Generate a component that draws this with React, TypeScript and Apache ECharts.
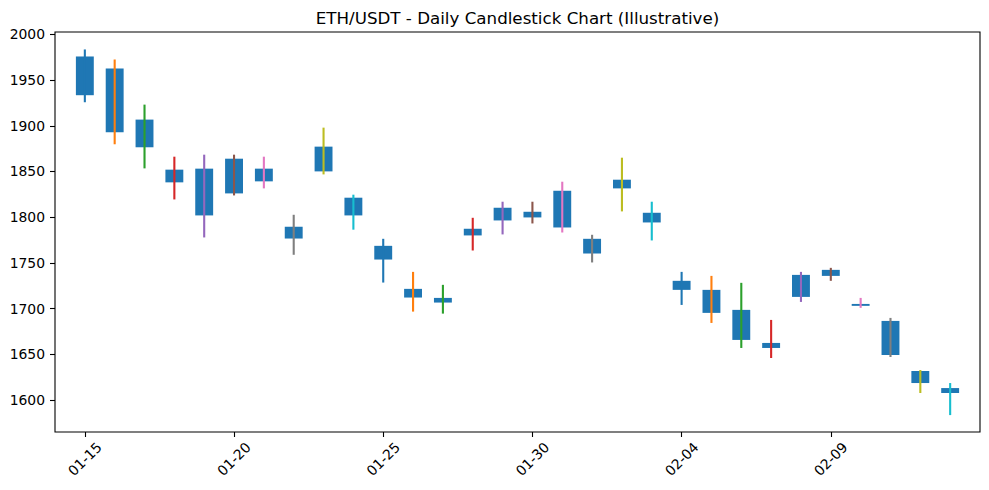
import React, { useEffect, useRef } from "react";
import * as echarts from "echarts";

const dates = [
  "01-15", "01-16", "01-17", "01-18", "01-19", "01-20", "01-21", "01-22", "01-23", "01-24",
  "01-25", "01-26", "01-27", "01-28", "01-29", "01-30", "01-31", "02-01", "02-02", "02-03",
  "02-04", "02-05", "02-06", "02-07", "02-08", "02-09", "02-10", "02-11", "02-12", "02-13",
];
const tickLabels = ["01-15", "01-20", "01-25", "01-30", "02-04", "02-09"];
const yTicks = [1600, 1650, 1700, 1750, 1800, 1850, 1900, 1950, 2000];

const open = [
  1975.9, 1962.7, 1906.8, 1852.0, 1853.1, 1864.0, 1853.1, 1789.5, 1877.2, 1821.3,
  1768.6, 1721.5, 1711.6, 1787.3, 1810.3, 1805.9, 1828.9, 1776.3, 1841.0, 1804.8,
  1730.3, 1720.4, 1698.5, 1662.3, 1736.8, 1742.3, 1705.0, 1686.4, 1631.6, 1612.9,
];
const close = [
  1933.5, 1892.9, 1876.5, 1838.1, 1801.9, 1826.0, 1839.2, 1776.6, 1850.1, 1801.9,
  1753.6, 1712.0, 1706.5, 1780.0, 1796.4, 1799.7, 1788.7, 1760.2, 1831.5, 1794.2,
  1720.4, 1695.2, 1665.6, 1656.8, 1712.7, 1735.7, 1702.9, 1649.1, 1618.4, 1607.5,
];
const high = [
  1983.6, 1972.6, 1923.2, 1866.2, 1868.4, 1868.4, 1866.2, 1802.6, 1898.0, 1824.6,
  1776.3, 1740.1, 1725.9, 1799.3, 1816.9, 1816.9, 1838.8, 1780.7, 1865.1, 1816.9,
  1740.1, 1735.7, 1728.1, 1687.5, 1740.1, 1744.5, 1711.6, 1689.7, 1632.7, 1618.4,
];
const low = [
  1925.8, 1879.8, 1853.4, 1819.4, 1777.8, 1823.8, 1831.5, 1758.8, 1846.8, 1786.3,
  1728.4, 1696.6, 1694.4, 1763.5, 1781.1, 1793.1, 1783.2, 1750.4, 1806.3, 1774.5,
  1703.9, 1684.2, 1656.8, 1645.8, 1707.2, 1730.3, 1700.7, 1646.9, 1607.5, 1583.3,
];

const wickColors = [
  "#1f77b4", "#ff7f0e", "#2ca02c", "#d62728", "#9467bd",
  "#8c564b", "#e377c2", "#7f7f7f", "#bcbd22", "#17becf",
];
const bodyColor = "#1f77b4";
const FONT = "DejaVu Sans";

export default function App() {
  const ref = useRef<HTMLDivElement>(null);
  useEffect(() => {
    if (!ref.current) return;
    const chart = echarts.init(ref.current, null, { renderer: "svg" });
    // axis categories: one padding day on each side (xlim = [-1, 30] days)
    const axisCats = ["", ...dates, " "];
    const data = dates.map((_, i) => [i + 1, open[i], close[i], low[i], high[i]]);
    chart.setOption({
      animation: false,
      backgroundColor: "#ffffff",
      graphic: [
        {
          type: "text",
          x: 517.5,
          y: 18,
          style: {
            text: "ETH/USDT - Daily Candlestick Chart (Illustrative)",
            fontFamily: FONT,
            fontSize: 16.7,
            fill: "#000",
            textAlign: "center",
            textVerticalAlign: "middle",
          },
        },
      ],
      grid: {
        left: 55,
        right: 9,
        top: 32,
        bottom: 58,
        show: true,
        borderColor: "#000",
        borderWidth: 1.1,
        backgroundColor: "transparent",
      },
      xAxis: {
        type: "category",
        data: axisCats,
        boundaryGap: false,
        axisLine: { show: false },
        axisTick: {
          show: true,
          length: 5,
          lineStyle: { color: "#000", width: 1.1 },
          interval: (_i: number, v: string) => tickLabels.includes(v),
        },
        axisLabel: {
          interval: (_i: number, v: string) => tickLabels.includes(v),
          rotate: 45,
          align: "center",
          verticalAlign: "middle",
          margin: 27,
          fontFamily: FONT,
          fontSize: 13.9,
          color: "#000",
        },
        splitLine: { show: false },
      },
      yAxis: {
        type: "value",
        min: 1564.8,
        max: 2002.7,
        axisLine: { show: false },
        axisTick: {
          show: true,
          length: 5,
          lineStyle: { color: "#000", width: 1.1 },
          customValues: yTicks,
        },
        axisLabel: {
          customValues: yTicks,
          formatter: (v: number) => String(v),
          margin: 10,
          fontFamily: FONT,
          fontSize: 13.9,
          color: "#000",
        },
        splitLine: { show: false },
      },
      series: [
        {
          type: "custom",
          data,
          encode: { x: 0, y: [1, 2, 3, 4] },
          renderItem: (params: any, api: any) => {
            const idx = api.value(0);
            const o = api.value(1);
            const c = api.value(2);
            const lo = api.value(3);
            const hi = api.value(4);
            const pTop = api.coord([idx, Math.max(o, c)]);
            const pBot = api.coord([idx, Math.min(o, c)]);
            const pHi = api.coord([idx, hi]);
            const pLo = api.coord([idx, lo]);
            const band = api.size([1, 0])[0];
            const w = band * 0.6;
            return {
              type: "group",
              children: [
                {
                  type: "rect",
                  shape: { x: pTop[0] - w / 2, y: pTop[1], width: w, height: pBot[1] - pTop[1] },
                  style: { fill: bodyColor },
                },
                {
                  type: "line",
                  shape: { x1: pHi[0], y1: pHi[1], x2: pLo[0], y2: pLo[1] },
                  style: { stroke: wickColors[params.dataIndex % 10], lineWidth: 2.1 },
                },
              ],
            };
          },
        },
      ],
    });
    return () => chart.dispose();
  }, []);
  return (
    <div
      ref={ref}
      style={{ position: "fixed", left: 0, top: 0, width: 989, height: 490, background: "#fff" }}
    />
  );
}
